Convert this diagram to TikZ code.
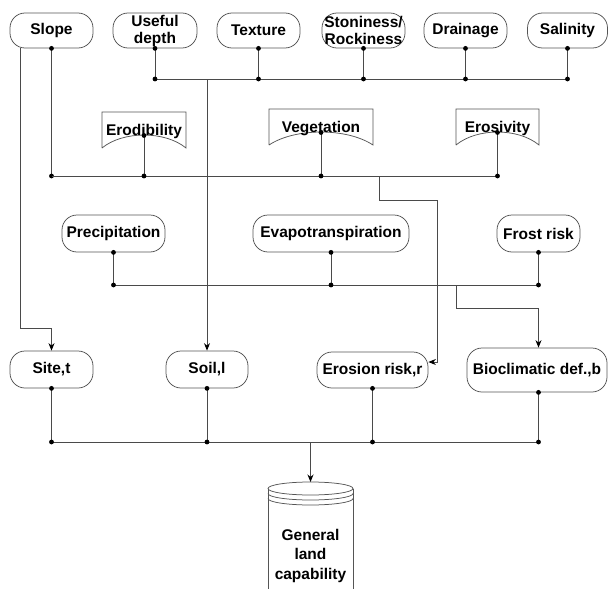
\documentclass[tikz,border=0pt]{standalone}
\usepackage{fontspec}
\setmainfont{Liberation Sans}
\usetikzlibrary{arrows.meta}
\definecolor{linec}{HTML}{4A4A4A}
\definecolor{boxc}{HTML}{555555}
\begin{document}
\begin{tikzpicture}[x=1pt,y=-1pt,
  ln/.style={draw=linec, line width=0.9pt},
  arr/.style={-{Stealth[length=7.5pt,width=6pt,color=black]}},
  lbl/.style={font=\bfseries\fontsize{15.5}{17}\selectfont, align=center, inner sep=0pt},
  box/.style={lbl, draw=boxc, line width=0.75pt, rounded corners=15pt},
  outl/.style={draw=boxc, line width=0.75pt},
  dotr/.style={fill=black}
]
\useasboundingbox (0,0) rectangle (608,589);

% ---------- top row ----------
\node[box, minimum width=83pt, minimum height=35pt] (slope)    at (51.5,30.5) {Slope};
\node[box, minimum width=84pt, minimum height=35pt] (depth)    at (155,30.5) {Useful\\depth};
\node[box, minimum width=83pt, minimum height=35pt] (texture)  at (258.5,30.5) {Texture};
\node[box, minimum width=83pt, minimum height=35pt] (stone)    at (363.5,30.5) {Stoniness/\\Rockiness};
\node[box, minimum width=83pt, minimum height=35pt] (drainage) at (465.5,30.5) {Drainage};
\node[box, minimum width=80pt, minimum height=35pt] (salinity) at (567.5,30.5) {Salinity};

% ---------- document shapes ----------
\draw[outl] (102,148) -- (102,112) -- (186,112) -- (186,148) .. controls (165,130.7) and (123,130.7) .. (102,148);
\node[lbl, anchor=base] (erod) at (144,135) {Erodibility};
\draw[outl] (269,145) -- (269,109) -- (373,109) -- (373,145) .. controls (347,127.7) and (295,127.7) .. (269,145);
\node[lbl, anchor=base] (veg) at (321,132) {Vegetation};
\draw[outl] (456,145) -- (456,109) -- (539,109) -- (539,145) .. controls (518,127.7) and (477,127.7) .. (456,145);
\node[lbl, anchor=base] (erosv) at (497.5,132) {Erosivity};
\coordinate (erodc) at (144,135.5);
\coordinate (vegc) at (321,132.5);
\coordinate (erosvc) at (497.5,132.5);

% ---------- third row ----------
\node[box, minimum width=103pt, minimum height=37pt] (precip) at (113.5,233.5) {Precipitation};
\node[box, minimum width=156pt, minimum height=37pt] (evap)   at (331,233.5) {Evapotranspiration};
\node[box, minimum width=83pt,  minimum height=37pt] (frost)  at (538.5,233.5) {Frost risk};

% ---------- fourth row ----------
\node[box, minimum width=83pt,  minimum height=37pt] (site)    at (51.5,369.5) {Site,t};
\node[box, minimum width=82pt,  minimum height=37pt] (soil)    at (207,369.5) {Soil,l};
\node[box, minimum width=111pt, minimum height=36pt] (erosion) at (372.5,370) {Erosion risk,r};
\node[box, minimum width=140pt, minimum height=44pt] (bio)     at (537,370) {Bioclimatic def.,b};

% ---------- cylinder ----------
\draw[outl] (268,488.5) arc[start angle=180,end angle=-180,x radius=42.5,y radius=6.5];
\draw[outl] (268,493.5) arc[start angle=180,end angle=0,x radius=42.5,y radius=6.5];
\draw[outl] (268,498.5) arc[start angle=180,end angle=0,x radius=42.5,y radius=6.5];
\draw[outl] (268,488.5) -- (268,589);
\draw[outl] (353,488.5) -- (353,589);
\node[lbl, font=\bfseries\fontsize{15.5}{19.5}\selectfont] (glc) at (310.5,555.5) {General\\land\\capability};
\coordinate (cyltop) at (310.5,482);

% ---------- bus levels ----------
\coordinate (bus1) at (0,79);
\coordinate (bus2) at (0,176);
\coordinate (bus3) at (0,285);
\coordinate (bus4) at (0,442);

% top bus
\draw[ln] (depth.south |- bus1) -- (salinity.south |- bus1);
\foreach \n in {depth,texture,stone,drainage,salinity}{
  \draw[ln] (\n.south) -- (\n.south |- bus1);
  \fill[dotr] (\n.south) circle (2.4pt);
  \fill[dotr] (\n.south |- bus1) circle (2.4pt);
}
\draw[ln, arr] (soil.north |- bus1) -- (soil.north);

% slope connections
\coordinate (slA) at (20,48);
\coordinate (slB) at (20,328);
\draw[ln, arr] (slA) -- (slB) -| (site.north);
\draw[ln] (slope.south) -- (slope.south |- bus2);
\fill[dotr] (slope.south) circle (2.4pt);
\fill[dotr] (slope.south |- bus2) circle (2.4pt);

% second bus
\draw[ln] (slope.south |- bus2) -- (erosvc |- bus2);
\foreach \c in {erodc,vegc,erosvc}{
  \draw[ln] (\c) -- (\c |- bus2);
  \fill[dotr] (\c) circle (2.4pt);
  \fill[dotr] (\c |- bus2) circle (2.4pt);
}
\coordinate (e1) at (379,176);
\coordinate (e2) at (379,200);
\coordinate (e3) at (437,200);
\draw[ln, arr] (e1) -- (e2) -- (e3) |- ([yshift=8pt]erosion.east);

% third bus
\draw[ln] (precip.south |- bus3) -- (frost.south |- bus3);
\foreach \n in {precip,evap,frost}{
  \draw[ln] (\n.south) -- (\n.south |- bus3);
  \fill[dotr] (\n.south) circle (2.4pt);
  \fill[dotr] (\n.south |- bus3) circle (2.4pt);
}
\coordinate (f1) at (456,285);
\coordinate (f2) at (456,308);
\draw[ln, arr] (f1) -- (f2) -| (frost.south |- bio.north);

% bottom bus
\draw[ln] (site.south |- bus4) -- (frost.south |- bus4);
\foreach \n in {site,soil,erosion}{
  \draw[ln] (\n.south) -- (\n.south |- bus4);
  \fill[dotr] (\n.south) circle (2.4pt);
  \fill[dotr] (\n.south |- bus4) circle (2.4pt);
}
\draw[ln] (frost.south |- bio.south) -- (frost.south |- bus4);
\fill[dotr] (frost.south |- bio.south) circle (2.4pt);
\fill[dotr] (frost.south |- bus4) circle (2.4pt);
\draw[ln, arr] (cyltop |- bus4) -- (cyltop);
\end{tikzpicture}
\end{document}
